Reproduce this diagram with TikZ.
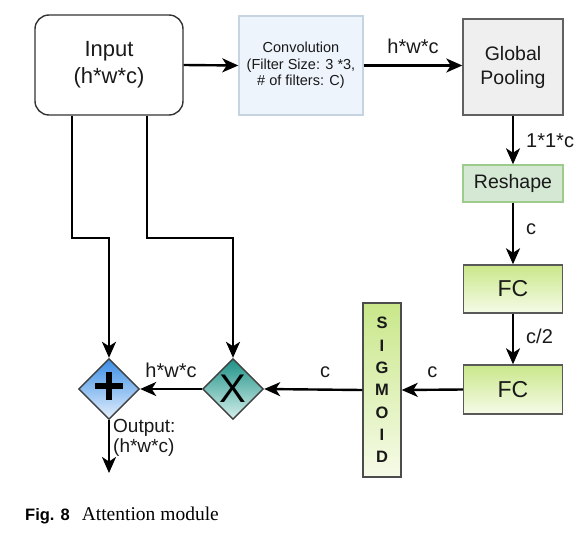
\documentclass[tikz,border=0pt]{standalone}
\usepackage{fontspec}
\setmainfont{Liberation Sans}
\newfontfamily\timesfont{Liberation Serif}
\usepackage{xcolor}
\usetikzlibrary{arrows.meta,shapes,positioning,calc}

\definecolor{convfill}{HTML}{EEF4FC}
\definecolor{convline}{HTML}{C6D4E2}
\definecolor{poolfill}{HTML}{EFEFEF}
\definecolor{reshfill}{HTML}{D5E8D4}
\definecolor{reshline}{HTML}{9CCB8C}
\definecolor{fctop}{HTML}{C9E78A}
\definecolor{fcbot}{HTML}{F6FBE8}
\definecolor{addtop}{HTML}{3A8DE6}
\definecolor{addbot}{HTML}{E4F0FC}
\definecolor{multop}{HTML}{1C9186}
\definecolor{mulbot}{HTML}{D6F0EC}

\tikzset{
  flow/.style={-{Stealth[length=16pt,width=14pt,inset=4.5pt]},line width=2.4pt,draw=black},
  block/.style={rectangle,draw=black!65,line width=1.4pt,align=center,text=black!90},
  lbl/.style={font=\fontsize{20}{22}\selectfont,text=black!90,inner sep=0pt},
  toplbl/.style={lbl,anchor=base,yshift=12pt},
  sidelbl/.style={lbl,anchor=base west,xshift=12pt,yshift=-5pt},
  junction/.style={diamond,aspect=1,minimum size=61pt,inner sep=0pt,draw=black!75,line width=1.4pt}
}

\begin{document}
\begin{tikzpicture}[x=1pt,y=-1pt]
\useasboundingbox (0,0) rectangle (580,532);

% Top row
\node[block,draw=black!80,rounded corners=14pt,minimum width=148pt,minimum height=100pt,font=\fontsize{22}{27}\selectfont] (in) at (109,65) {Input\\(h*w*c)};
\node[block,draw=convline,fill=convfill,minimum width=124pt,minimum height=99pt,font=\fontsize{14.5}{16.5}\selectfont] (conv) at (301,65.5) {Convolution\\(Filter Size: 3 *3,\\\# of filters: C)};
\node[block,fill=poolfill,draw=black!62,minimum width=100pt,minimum height=96pt,font=\fontsize{19.5}{24}\selectfont] (pool) at (513,67) {Global\\Pooling};
\draw[flow] (in.east) -- (conv.west);
\draw[flow] (conv.east) -- node[toplbl] {h*w*c} (conv.east -| pool.west);

% Right column
\node[block,fill=reshfill,draw=reshline,minimum width=100pt,minimum height=37pt,font=\fontsize{19.5}{22}\selectfont] (resh) at (513,183.5) {Reshape};
\node[block,top color=fctop,bottom color=fcbot,minimum width=99pt,minimum height=48pt,font=\fontsize{23}{26}\selectfont] (fca) at (513,289) {FC};
\node[block,top color=fctop,bottom color=fcbot,minimum width=99pt,minimum height=49pt,font=\fontsize{23}{26}\selectfont] (fcb) at (513,389.5) {FC};
\draw[flow] (pool.south) -- node[sidelbl,yshift=-2pt] {1*1*c} (resh.north);
\draw[flow] (resh.south) -- node[sidelbl,yshift=4pt] {c} (fca.north);
\draw[flow] (fca.south) -- node[sidelbl,yshift=1pt] {c/2} (fcb.north);

% Bottom row
\node[block,top color=fctop,bottom color=fcbot,draw=black!70,minimum width=38pt,minimum height=174pt,font=\bfseries\fontsize{16.5}{22.3}\selectfont] (sig) at (382,390) {S\\I\\G\\M\\O\\I\\D};
\node[junction,top color=multop,bottom color=mulbot,font=\fontsize{40}{40}\selectfont] (mult) at (233,389) {X};
\node[junction,top color=addtop,bottom color=addbot] (add) at (109,389) {};
\draw[line width=6.5pt] ([xshift=-14pt,yshift=3pt]add.center) -- ([xshift=14pt,yshift=3pt]add.center);
\draw[line width=6.5pt] ([yshift=17pt]add.center) -- ([yshift=-11pt]add.center);
\coordinate (out) at (109,473);
\draw[flow] (fcb.west) -- node[toplbl] {c} (sig.east);
\draw[flow] (sig.west) -- node[toplbl,pos=0.38] {c} (mult.east);
\draw[flow] (mult.west) -- node[toplbl] {h*w*c} (add.east);
\draw[flow] (add.south) -- (out);
\node[lbl,anchor=north west,align=left,font=\fontsize{19}{20}\selectfont,xshift=4pt,yshift=1pt] (outlbl) at (add.south) {Output:\\(h*w*c)};

% Skip connections from the input
\draw[flow] ([xshift=-37pt]in.south) -- ++(0,122) -| (add.north);
\draw[flow] ([xshift=38pt]in.south) -- ++(0,122) -| (mult.north);

% Caption
\node[anchor=base west,inner sep=0pt] (cap) at (25,520) {{\bfseries\fontsize{16.5}{18}\selectfont Fig. 8}\hspace{12pt}{\timesfont\fontsize{19.5}{22}\selectfont Attention module}};
\end{tikzpicture}
\end{document}
